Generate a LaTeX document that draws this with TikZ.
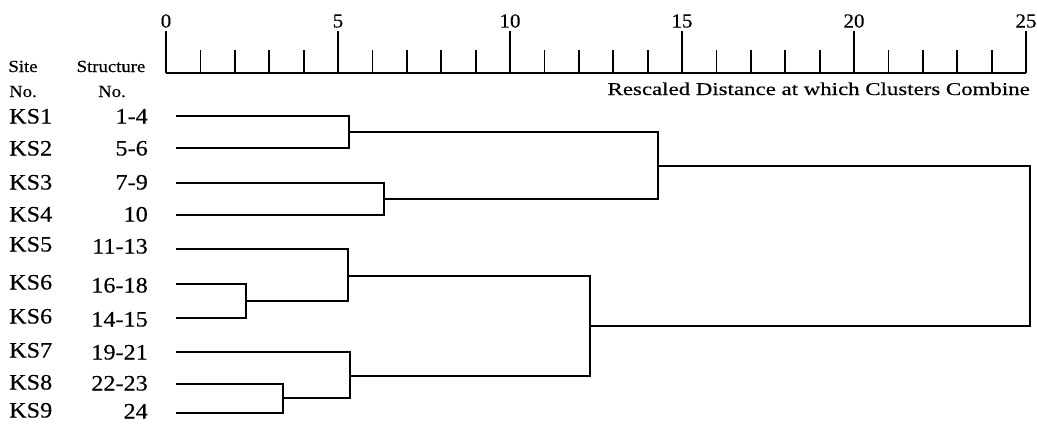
\documentclass[tikz,border=0pt]{standalone}
\usepackage{fontspec}
\setmainfont{Liberation Serif}
\newfontfamily\widefont{Liberation Serif}[FakeStretch=1.27,FakeBold=0.4]
\newfontfamily\midfont{Liberation Serif}[FakeStretch=1.1,FakeBold=0.4]
\newfontfamily\numfont{Liberation Serif}[FakeStretch=1.05,FakeBold=0.4]
\begin{document}
\begin{tikzpicture}[x=1pt,y=-1pt,
  axis/.style={line width=1.8pt},
  link/.style={line width=1.8pt},
  numlab/.style={inner sep=0pt,font=\numfont\fontsize{20}{23}\selectfont},
  sitelab/.style={inner sep=0pt,anchor=base west,font=\midfont\fontsize{22}{26}\selectfont},
  structlab/.style={inner sep=0pt,anchor=base east,font=\midfont\fontsize{22}{26}\selectfont},
  headlab/.style={inner sep=0pt,anchor=base,font=\midfont\fontsize{17}{20}\selectfont},
  axistitle/.style={inner sep=0pt,anchor=base east,font=\widefont\fontsize{18}{21}\selectfont}]
\useasboundingbox (0,0) rectangle (1037,424);

% scale
\draw[axis] (166,73) -- (1026,73);
\foreach \u [evaluate=\u as \xx using 166+34.4*\u] in {0,...,25}
  \draw[axis] (\xx,73) -- (\xx,50);
\foreach \u [evaluate=\u as \xx using 166+34.4*\u] in {0,5,...,25}{
  \draw[axis] (\xx,73) -- (\xx,31);
  \node[numlab] (n\u) at (\xx,21) {\u};
}
\node[axistitle] (title) at (1030,95) {Rescaled Distance at which Clusters Combine};

% headers
\node[headlab] (h1) at (23,72) {Site};
\node[headlab] (h2) at (23,97) {No.};
\node[headlab] (h3) at (111,72) {Structure};
\node[headlab] (h4) at (112,97) {No.};

% labels
\foreach \i/\s/\y in {1/KS1/123.5,2/KS2/155.5,3/KS3/189.5,4/KS4/221.5,5/KS5/251.5,6/KS6/289.5,7/KS6/323.5,8/KS7/357.5,9/KS8/389.5,10/KS9/417.5}
  \node[sitelab] (s\i) at (9,\y) {\s};
\foreach \i/\s/\y in {1/1-4/123.5,2/5-6/155.5,3/7-9/189.5,4/10/221.5,5/11-13/253.5,6/16-18/292.5,7/14-15/326.5,8/19-21/359.5,9/22-23/390.5,10/24/418.5}
  \node[structlab] (t\i) at (148,\y) {\s};

% leaves
\foreach \i/\y in {1/116,2/148,3/183,4/215,5/249,6/284,7/318,8/352,9/384,10/413}
  \coordinate (l\i) at (176,\y);

% merge points
\coordinate (m12) at (349,132);
\coordinate (m34) at (384,199);
\coordinate (mA) at (658,166);
\coordinate (m67) at (246,301);
\coordinate (m5) at (348,276);
\coordinate (m910) at (283,398);
\coordinate (m8) at (350,376);
\coordinate (mB) at (590,326);
\coordinate (mR) at (1030,246);

\draw[link] (l1) -| (m12) |- (l2);
\draw[link] (l3) -| (m34) |- (l4);
\draw[link] (m12) -| (mA) |- (m34);
\draw[link] (l6) -| (m67) |- (l7);
\draw[link] (l5) -| (m5) |- (m67);
\draw[link] (l9) -| (m910) |- (l10);
\draw[link] (l8) -| (m8) |- (m910);
\draw[link] (m5) -| (mB) |- (m8);
\draw[link] (mA) -| (mR) |- (mB);
\end{tikzpicture}
\end{document}
